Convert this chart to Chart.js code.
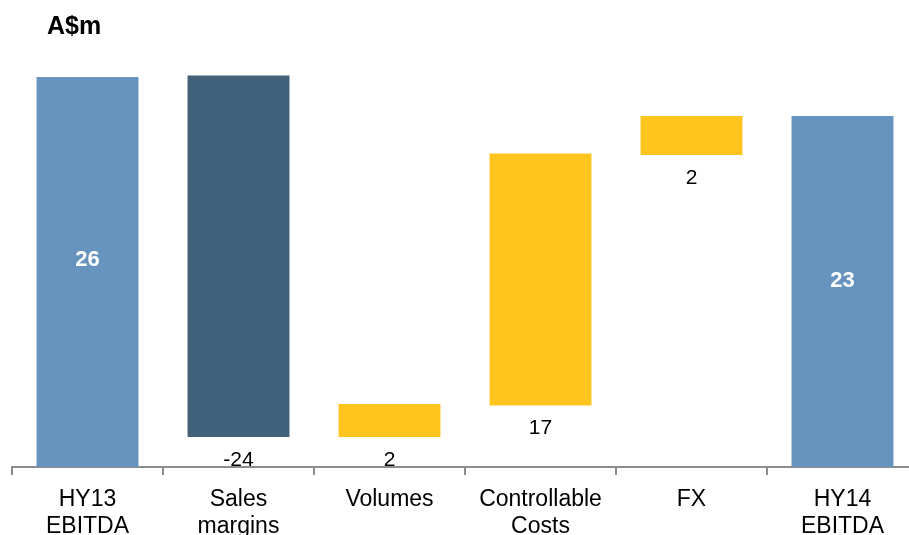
<!DOCTYPE html>
<html>
<head>
<meta charset="utf-8">
<script src="https://cdn.jsdelivr.net/npm/chart.js@4"></script>
<style>
  html, body { margin: 0; padding: 0; background: #fff; overflow: hidden; }
  #wrap { width: 909px; height: 535px; overflow: hidden; }
</style>
</head>
<body>
<div id="wrap"><canvas id="chart" width="930" height="535"></canvas></div>
<script>
// Categories and waterfall values (A$m)
const categories = [['HY13', 'EBITDA'], ['Sales', 'margins'], ['Volumes'], ['Controllable', 'Costs'], ['FX'], ['HY14', 'EBITDA']];
const barLow = [0, 2.0, 2.0, 4.1, 20.8, 0];
const barHigh = [26, 26.1, 4.2, 20.9, 23.4, 23.4];
const valueLabels = ['26', '-24', '2', '17', '2', '23'];
const isTotal = [true, false, false, false, false, true];
const barColors = ['#6794BF', '#41607A', '#FFC51E', '#FFC51E', '#FFC51E', '#6794BF'];

const FONT = '"Liberation Sans", Arial, sans-serif';

// draws the unit title and the value labels
const labelPlugin = {
    id: 'labels',
    afterDatasetsDraw(chart) {
        const ctx = chart.ctx;
        ctx.save();
        ctx.fillStyle = '#000';
        ctx.font = 'bold 25px ' + FONT;
        ctx.textAlign = 'left';
        ctx.textBaseline = 'middle';
        ctx.fillText('A$m', 47, 27);

        const meta = chart.getDatasetMeta(0);
        meta.data.forEach((bar, i) => {
            const top = Math.min(bar.y, bar.base);
            const bottom = Math.max(bar.y, bar.base);
            ctx.textAlign = 'center';
            if (isTotal[i]) {
                ctx.fillStyle = '#fff';
                ctx.font = 'bold 22px ' + FONT;
                ctx.fillText(valueLabels[i], bar.x, top + (bottom - top) * 0.47);
            } else {
                ctx.fillStyle = '#000';
                ctx.font = '21px ' + FONT;
                ctx.fillText(valueLabels[i], bar.x, bottom + 23);
            }
        });
        ctx.restore();
    }
};

new Chart(document.getElementById('chart'), {
    type: 'bar',
    data: {
        labels: categories,
        datasets: [{
            data: barLow.map((lo, i) => [lo, barHigh[i]]),
            backgroundColor: barColors,
            borderWidth: 0,
            borderSkipped: false,
            barPercentage: 1,
            categoryPercentage: 0.675
        }]
    },
    options: {
        responsive: false,
        animation: false,
        layout: { padding: { left: 12, right: 12, top: 17, bottom: 0 } },
        plugins: {
            legend: { display: false },
            tooltip: { enabled: false }
        },
        scales: {
            x: {
                offset: true,
                grid: {
                    offset: true,
                    drawOnChartArea: false,
                    drawTicks: true,
                    tickLength: 8,
                    color: '#8C8C8C',
                    lineWidth: 2
                },
                border: { color: '#8C8C8C', width: 2 },
                ticks: {
                    color: '#000',
                    font: { family: FONT, size: 23, lineHeight: 1.17 },
                    padding: 11,
                    maxRotation: 0,
                    autoSkip: false
                },
                afterFit(scale) { scale.height = 68; }
            },
            y: {
                display: false,
                min: 0,
                max: 30
            }
        }
    },
    plugins: [labelPlugin]
});
</script>
</body>
</html>
